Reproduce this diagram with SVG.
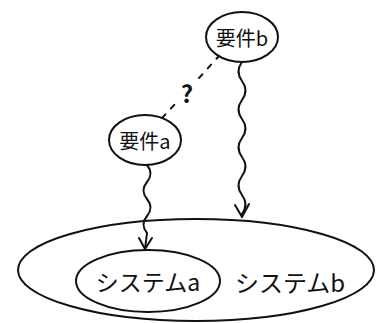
<svg xmlns="http://www.w3.org/2000/svg" width="377" height="323" viewBox="0 0 377 323">
<style>
.ln{fill:none;stroke:#111;stroke-width:2;stroke-linecap:round;stroke-linejoin:round}
.t{font-family:"Noto Sans CJK JP","DejaVu Sans",sans-serif;fill:#111;text-anchor:middle;dominant-baseline:central}
</style>
<rect width="377" height="323" fill="#fff"/>
<g id="system-b">
<ellipse class="ln" cx="196" cy="270" rx="178" ry="51"/>
<text class="t" x="290" y="281" font-size="24">システムb</text>
</g>
<g id="system-a">
<ellipse class="ln" cx="148" cy="281" rx="72" ry="31"/>
<text class="t" x="148" y="281" font-size="23">システムa</text>
</g>
<g id="req-b">
<ellipse class="ln" cx="242" cy="37" rx="36" ry="25"/>
<text class="t" x="242" y="37" font-size="20">要件b</text>
</g>
<g id="req-a">
<ellipse class="ln" cx="145" cy="140" rx="36" ry="25"/>
<text class="t" x="145" y="140" font-size="20">要件a</text>
</g>
<g id="connectors">
<path class="ln" d="M242,62 q-7,9.5 0,19 t0,19 t0,19 t0,19 t0,19 t0,19 t0,19 t0,19 l0,3"/>
<polyline class="ln" points="235,205 242,217 249,204"/>
<path class="ln" d="M147,165 q7,8.5 0,17 t0,17 t0,17 t0,17 l-2,16"/>
<polyline class="ln" points="139,238 145,249 152,238"/>
<line class="ln" x1="162" y1="118" x2="176" y2="103" stroke-dasharray="5,8"/>
<line class="ln" x1="199" y1="78" x2="219" y2="56" stroke-dasharray="5,8"/>
<text class="t" x="187" y="92" font-size="24" font-weight="bold">?</text>
</g>
</svg>
